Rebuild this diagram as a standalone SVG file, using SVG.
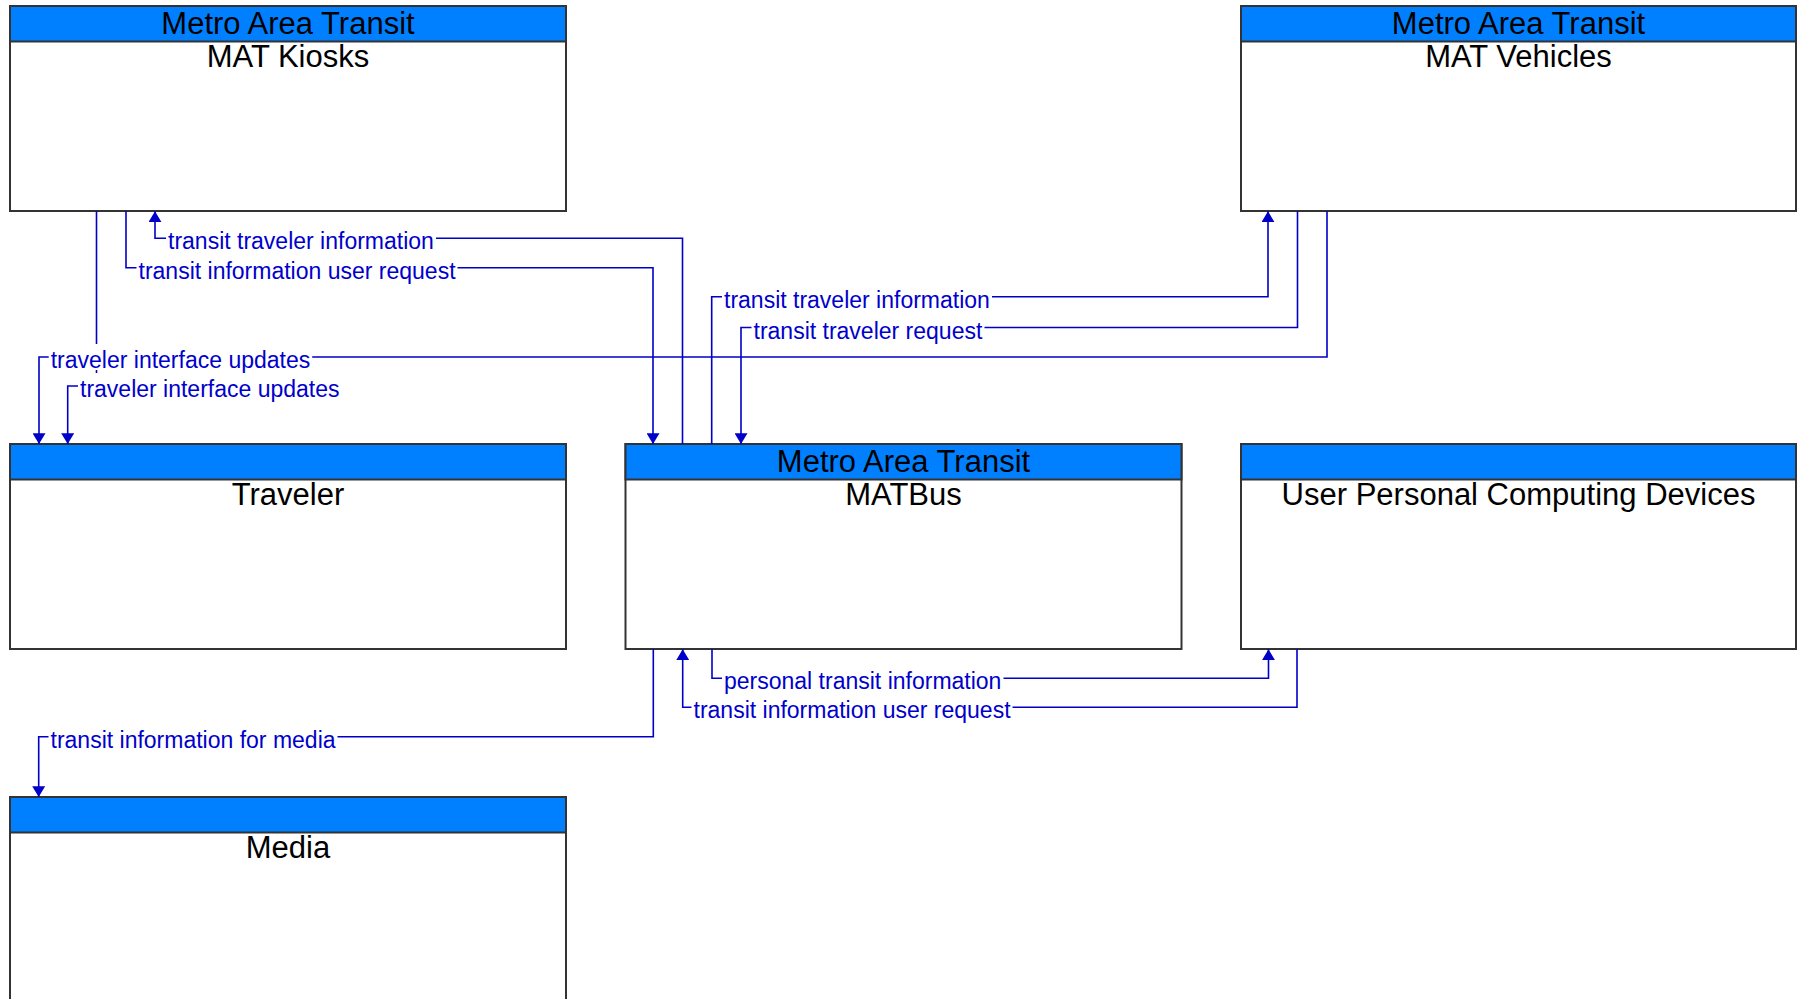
<svg xmlns="http://www.w3.org/2000/svg" width="1800" height="999" viewBox="0 0 1800 999">
<defs>
<style>
.box{fill:#ffffff;stroke:#333333;stroke-width:2}
.hdr{fill:#0080ff;stroke:#333333;stroke-width:2}
.t{font-family:"Liberation Sans",Arial,sans-serif;font-size:31px;fill:#000000;text-anchor:middle}
.ln{fill:none;stroke:#0000c8;stroke-width:1.6}
.lb{font-family:"Liberation Sans",Arial,sans-serif;font-size:23px;fill:#0000cc}
.bg{fill:#ffffff}
</style>
<marker id="arr" viewBox="0 0 10 12" refX="10" refY="6" markerWidth="11" markerHeight="13" markerUnits="userSpaceOnUse" orient="auto">
<path d="M0,0 L10,6 L0,12 z" fill="#0000c8"/>
</marker>
</defs>
<rect x="0" y="0" width="1800" height="999" fill="#ffffff"/>

<g id="node-kiosks">
<rect class="box" x="10" y="6" width="556" height="205"/>
<rect class="hdr" x="10" y="6" width="556" height="35.5"/>
<text class="t" x="288" y="33.5">Metro Area Transit</text>
<text class="t" x="288" y="67">MAT Kiosks</text>
</g>
<g id="node-vehicles">
<rect class="box" x="1241" y="6" width="555" height="205"/>
<rect class="hdr" x="1241" y="6" width="555" height="35.5"/>
<text class="t" x="1518.5" y="33.5">Metro Area Transit</text>
<text class="t" x="1518.5" y="67">MAT Vehicles</text>
</g>
<g id="node-traveler">
<rect class="box" x="10" y="444" width="556" height="205"/>
<rect class="hdr" x="10" y="444" width="556" height="35.5"/>
<text class="t" x="288" y="505">Traveler</text>
</g>
<g id="node-matbus">
<rect class="box" x="625.5" y="444" width="556" height="205"/>
<rect class="hdr" x="625.5" y="444" width="556" height="35.5"/>
<text class="t" x="903.5" y="471.5">Metro Area Transit</text>
<text class="t" x="903.5" y="505">MATBus</text>
</g>
<g id="node-upcd">
<rect class="box" x="1241" y="444" width="555" height="205"/>
<rect class="hdr" x="1241" y="444" width="555" height="35.5"/>
<text class="t" x="1518.5" y="505">User Personal Computing Devices</text>
</g>
<g id="node-media">
<rect class="box" x="10" y="797" width="556" height="210"/>
<rect class="hdr" x="10" y="797" width="556" height="35.5"/>
<text class="t" x="288" y="858">Media</text>
</g>

<g id="connectors">
<path class="ln" marker-end="url(#arr)" d="M682.5,444 V238.3 H155 V211.3"/>
<path class="ln" marker-end="url(#arr)" d="M126,211.3 V267.7 H653 V444"/>
<path class="ln" marker-end="url(#arr)" d="M1327,211.3 V357 H39 V444"/>
<path class="ln" marker-end="url(#arr)" d="M96.5,211.3 V386 H67.7 V444"/>
<path class="ln" marker-end="url(#arr)" d="M711.7,444 V296.7 H1268 V211.3"/>
<path class="ln" marker-end="url(#arr)" d="M1297.5,211.3 V327.5 H741 V444"/>
<path class="ln" marker-end="url(#arr)" d="M712,649.3 V678.3 H1268.5 V649.3"/>
<path class="ln" marker-end="url(#arr)" d="M1297,649.3 V707.3 H682.7 V649.3"/>
<path class="ln" marker-end="url(#arr)" d="M653.3,649.3 V736.7 H38.7 V797"/>

<g id="labels">
<rect class="bg" x="166" y="225.3" width="270" height="26"/>
<text class="lb" x="168" y="249.3">transit traveler information</text>
<rect class="bg" x="136.5" y="254.7" width="321" height="26"/>
<text class="lb" x="138.5" y="278.7">transit information user request</text>
<rect class="bg" x="48.7" y="344" width="263.5" height="26"/>
<text class="lb" x="50.7" y="368">traveler interface updates</text>
<rect class="bg" x="78" y="373" width="263.5" height="26"/>
<text class="lb" x="80" y="397">traveler interface updates</text>
<rect class="bg" x="722" y="283.7" width="270" height="26"/>
<text class="lb" x="724" y="307.7">transit traveler information</text>
<rect class="bg" x="751.5" y="314.5" width="233" height="26"/>
<text class="lb" x="753.5" y="338.5">transit traveler request</text>
<rect class="bg" x="722" y="665.3" width="281.5" height="26"/>
<text class="lb" x="724" y="689.3">personal transit information</text>
<rect class="bg" x="691.5" y="694.3" width="321" height="26"/>
<text class="lb" x="693.5" y="718.3">transit information user request</text>
<rect class="bg" x="48.5" y="723.7" width="289" height="26"/>
<text class="lb" x="50.5" y="747.7">transit information for media</text>
</g>
</g>
</svg>
